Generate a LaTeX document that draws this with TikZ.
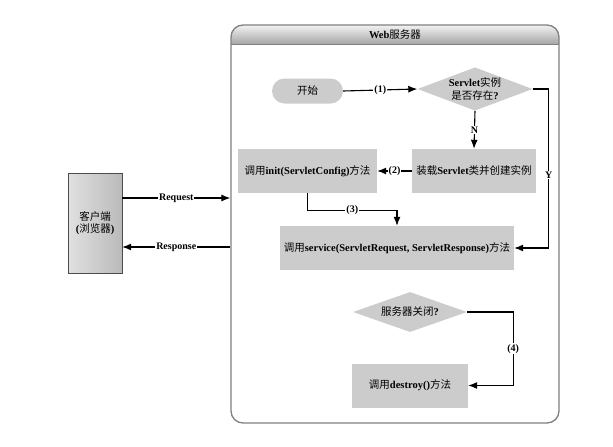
\documentclass[tikz,border=0pt]{standalone}
\usepackage{fontspec}
\setmainfont{Liberation Serif}
\newfontfamily\cjk{Noto Sans CJK SC}
\newcommand{\zh}[1]{{\cjk\mdseries #1}}
\usetikzlibrary{arrows.meta,shapes.geometric}

\begin{document}
\begin{tikzpicture}[x=1pt,y=-1pt,
    font=\bfseries\fontsize{10.5}{12.5}\selectfont,
    arr/.style={draw=black,line width=1.1pt,-{Latex[length=9pt,width=7pt]}},
    lbl/.style={fill=white,inner sep=1pt,font=\bfseries\fontsize{10}{11}\selectfont},
    stepbox/.style={fill=black!20,minimum width=#1,minimum height=44,inner sep=2pt},
    choice/.style={diamond,fill=black!20,aspect=2.5,inner sep=0pt,minimum width=#1,minimum height=42,align=center}]

    \useasboundingbox (0,0) rectangle (613,447);

    % web server frame
    \shade[top color=black!5,bottom color=black!35] (231,44) {[rounded corners=12] -- (231,25) -- (559,25)} -- (559,44) -- cycle;
    \node[draw=black!50,line width=1.3pt,rounded corners=12,minimum width=328,minimum height=398] (web) at (395,224) {};
    \draw[black!50,line width=1pt] (231,44) -- (559,44);
    \node (webtitle) at (395,34.5) {Web\zh{服务器}};

    % client
    \node[draw=black!70,left color=black!12,right color=black!27,minimum width=54,minimum height=100,align=center] (cli) at (95,223) {\zh{客户端}\\(\zh{浏览器})};

    \node[rounded corners=12.5,fill=black!20,minimum width=71,minimum height=25] (start) at (307.5,91) {\zh{开始}};
    \node[choice=115] (chk) at (475,89) {Servlet\zh{实例}\\\zh{是否存在}?};
    \node[stepbox=124] (load) at (474,171) {\zh{装载}Servlet\zh{类并创建实例}};
    \node[stepbox=139] (init) at (307.5,171) {\zh{调用}init(ServletConfig)\zh{方法}};
    \node[stepbox=234] (svc) at (397,248) {\zh{调用}service(ServletRequest, ServletResponse)\zh{方法}};
    \node[choice=114,minimum height=40] (off) at (410,312) {\zh{服务器关闭}?};
    \node[stepbox=116] (dst) at (410,385.5) {\zh{调用}destroy()\zh{方法}};

    \draw[arr] (cli.east |- 0,198) -- node[lbl]{Request} (web.west |- 0,198);
    \draw[arr] (web.west |- 0,247) -- node[lbl]{Response} (cli.east |- 0,247);

    \draw[arr] (start.east) -- node[lbl]{(1)} (chk.west);
    \draw[arr] (chk.south) -- node[lbl]{N} (load.north);
    \draw[arr] (chk.east) -- ++(16,0) |- node[lbl,pos=0.27]{Y} (svc.east);
    \draw[arr] (load.west) -- node[lbl]{(2)} (init.east);
    \draw[arr] (init.south) -- ++(0,17) -| node[lbl,pos=0.25]{(3)} (svc.north);
    \draw[arr] (off.east) -- ++(46,0) |- node[lbl,pos=0.25]{(4)} (dst.east);
\end{tikzpicture}
\end{document}
